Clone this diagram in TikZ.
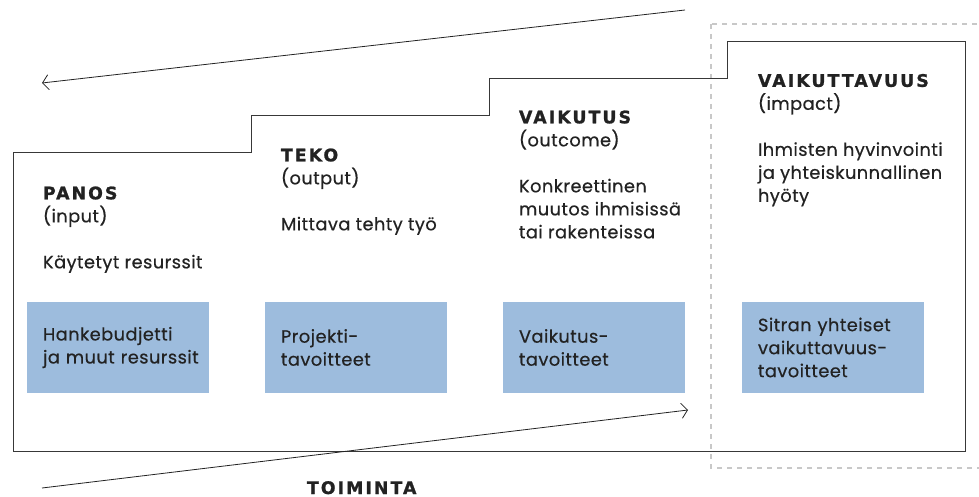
\documentclass[tikz,border=0pt]{standalone}
\usepackage{fontspec}
\setmainfont{Poppins}[FakeBold=0.5, LetterSpace=2.5]
\newfontfamily\headfont{DejaVu Sans}[LetterSpace=12, BoldFeatures={FakeBold=1.2}]
\usetikzlibrary{arrows.meta,positioning}

\definecolor{ink}{HTML}{222222}
\definecolor{goalblue}{HTML}{9DBCDD}
\definecolor{dashgray}{HTML}{C8C8C8}

\newcommand{\txt}{\fontsize{17.8}{23}\selectfont}
\newcommand{\hd}[1]{{\headfont\bfseries\fontsize{17.3}{23}\selectfont #1}}

\begin{document}
\begin{tikzpicture}[x=1pt, y=-1pt,
  every node/.style={inner sep=0pt, outer sep=0pt, text=ink},
  stage/.style={anchor=north west, align=left, font=\txt},
  goal/.style={fill=goalblue, anchor=north west, align=left, font=\txt,
    text width=150pt, inner xsep=16pt, minimum height=91pt},
  frame/.style={draw=ink!90, line width=0.9pt},
  flow/.style={draw=ink, line width=0.8pt, -{Straight Barb[length=6pt,width=15pt]}}]
\useasboundingbox (0,0) rectangle (979,497);

% portaat ja katkoviivalaatikko
\draw[dashgray, line width=2pt, dash pattern=on 5pt off 5pt] (711,24) rectangle (995,468);
\draw[frame] (13,451) |- (251,152) |- (489,115) |- (727,78) |- (965,41) -- (965,451) -- cycle;

% vaiheet
\node[stage] (panos) at (43,186.5) {\hd{PANOS}\\(input)\\[23pt]Käytetyt resurssit};
\node[stage] (teko) at (281,148.5) {\hd{TEKO}\\(output)\\[23pt]Mittava tehty työ};
\node[stage] (vaikutus) at (519,110.5) {\hd{VAIKUTUS}\\(outcome)\\[23pt]Konkreettinen\\muutos ihmisissä\\tai rakenteissa};
\node[stage] (vaikuttavuus) at (758,74) {\hd{VAIKUTTAVUUS}\\(impact)\\[23pt]Ihmisten hyvinvointi\\ja yhteiskunnallinen\\hyöty};

% tavoitteet
\node[goal] (budjetti) at (27,302) {Hankebudjetti\\\mbox{ja muut resurssit}};
\node[goal, right=56pt of budjetti] (projekti) {Projekti-\\tavoitteet};
\node[goal, right=56pt of projekti] (vtavoite) {Vaikutus-\\tavoitteet};
\node[goal, right=57pt of vtavoite] (sitra) {Sitran yhteiset\\vaikuttavuus-\\tavoitteet};

% nuolet
\coordinate (paluu alku) at (685,10);
\coordinate (paluu loppu) at (42,83);
\coordinate (toim alku) at (42,488);
\coordinate (toim loppu) at (688,410);
\draw[flow] (paluu alku) -- (paluu loppu);
\draw[flow] (toim alku) -- (toim loppu);
\node[anchor=base west] (toiminta) at (307,494) {\hd{TOIMINTA}};
\end{tikzpicture}
\end{document}
